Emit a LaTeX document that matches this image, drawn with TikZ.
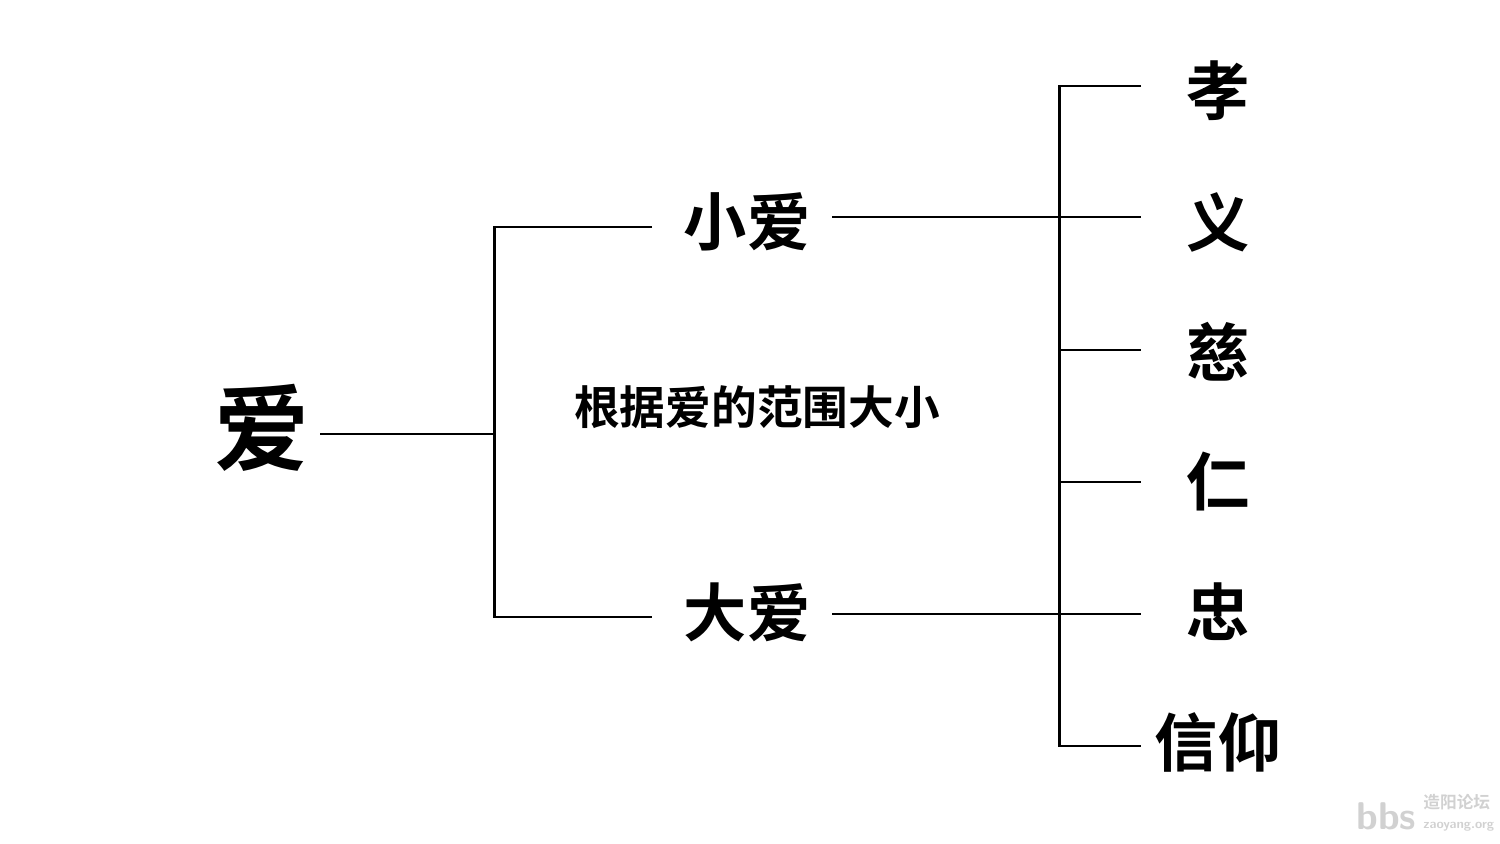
\documentclass[tikz,border=0pt]{standalone}
\usepackage{fontspec}
\newfontfamily\cjk{Noto Sans CJK SC}
\newfontfamily\cjkb{Noto Sans CJK SC Bold}
\tikzset{
  ln/.style={line width=1.7pt, black},
  big/.style={font=\cjkb\fontsize{54}{60}\selectfont, inner sep=0pt},
  mid/.style={font=\cjkb\fontsize{36}{40}\selectfont, inner sep=0pt},
  small/.style={font=\cjkb\fontsize{26}{30}\selectfont, inner sep=0pt},
  wm/.style={text=black!18, inner sep=0pt}
}
\begin{document}
\begin{tikzpicture}[x=0.02cm,y=-0.02cm]
\useasboundingbox (0,0) rectangle (1500,844);
% nodes
\node[big] (ai) at (262,428) {爱};
\node[mid] (xiao) at (747,222) {小爱};
\node[mid] (da) at (747,612) {大爱};
\node[small] (note) at (757,407) {根据爱的范围大小};
\node[mid] (r1) at (1218,91) {孝};
\node[mid] (r2) at (1218,222) {义};
\node[mid] (r3) at (1218,352) {慈};
\node[mid] (r4) at (1218,482) {仁};
\node[mid] (r5) at (1218,612) {忠};
\node[mid] (r6) at (1218,742) {信仰};
% coordinates
\coordinate (a0) at (320,434);
\coordinate (a1) at (494,434);
\coordinate (at) at (494,227);
\coordinate (ab) at (494,617);
\coordinate (xl) at (652,227);
\coordinate (dl) at (652,617);
\coordinate (xr) at (832,217);
\coordinate (dr) at (832,614);
\coordinate (vt) at (1059,86);
\coordinate (vb) at (1059,746);
\coordinate (b1) at (1141,86);
\coordinate (b2) at (1141,217);
\coordinate (b3) at (1141,350);
\coordinate (b4) at (1141,482);
\coordinate (b5) at (1141,614);
\coordinate (b6) at (1141,746);
% connectors
\draw[ln] (a0) -- (a1);
\draw[ln] (xl) -- (at) -- (ab) -- (dl);
\draw[ln] (xr) -- (b2);
\draw[ln] (dr) -- (b5);
\draw[ln] (b1) -- (vt) -- (vb) -- (b6);
\draw[ln] (1059,350) -- (b3);
\draw[ln] (1059,482) -- (b4);
% watermark
\node[wm, font=\fontfamily{lmss}\bfseries\fontsize{22}{24}\selectfont, anchor=base west] (wb) at (1356,829) {bbs};
\node[wm, font=\cjkb\fontsize{9.5}{10}\selectfont, anchor=base west] (wc) at (1423,808) {造阳论坛};
\node[wm, font=\sffamily\bfseries\fontsize{7.5}{8}\selectfont, anchor=base west] (wu) at (1423,828) {zaoyang.org};
\end{tikzpicture}
\end{document}
